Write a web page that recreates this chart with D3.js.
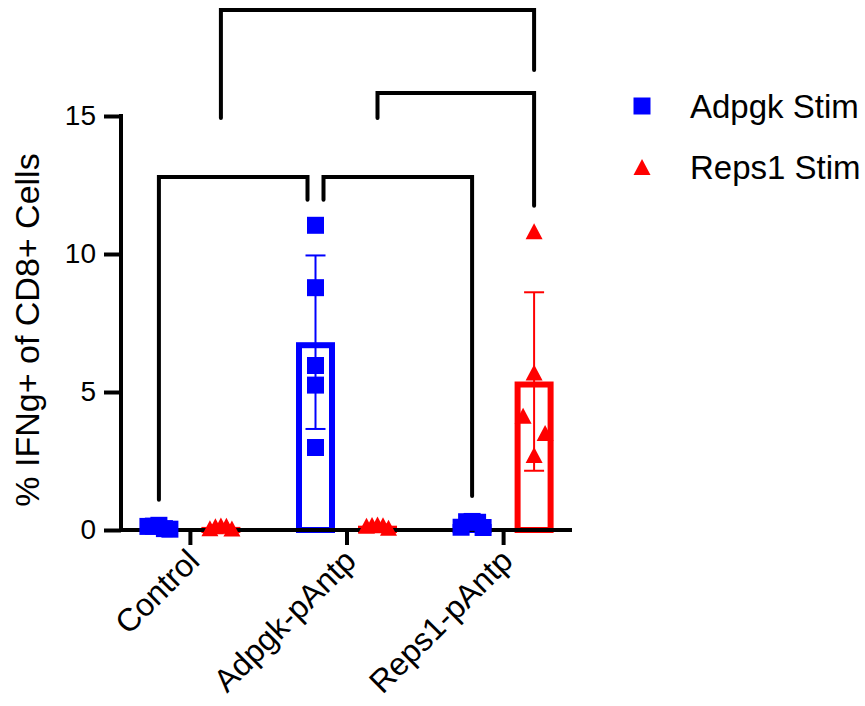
<!DOCTYPE html>
<html>
<head>
<meta charset="utf-8">
<script src="https://cdn.jsdelivr.net/npm/d3@7"></script>
<style>
  body { margin: 0; background: #fff; }
  svg { display: block; }
  text { font-family: "Liberation Sans", Arial, Helvetica, sans-serif; fill: #000; }
</style>
</head>
<body>
<svg id="chart" width="865" height="706"></svg>
<script>
// ---- data -------------------------------------------------------------
const categories = ['Control', 'Adpgk-pAntp', 'Reps1-pAntp'];
const seriesNames = ['Adpgk Stim', 'Reps1 Stim'];

// % IFNg+ of CD8+ cells, one replicate per entry, per category
const adpgkStim = [
  [0.13, 0.14, 0.17, 0.05, 0.03],
  [11.04, 8.78, 5.96, 5.25, 2.99],
  [0.10, 0.30, 0.31, 0.28, 0.09]
];
const reps1Stim = [
  [0.06, 0.14, 0.16, 0.15, 0.05],
  [0.15, 0.18, 0.20, 0.17, 0.08],
  [10.82, 5.71, 4.14, 3.51, 2.72]
];

const yTicks = [0, 5, 10, 15];

// significance brackets: endpoints as [category, series], level in data units
const comparisons = [
  { from: ['Control', 'Adpgk Stim'],     to: ['Adpgk-pAntp', 'Adpgk Stim'], level: 12.79 },
  { from: ['Adpgk-pAntp', 'Adpgk Stim'], to: ['Reps1-pAntp', 'Adpgk Stim'], level: 12.79 },
  { from: ['Adpgk-pAntp', 'Reps1 Stim'], to: ['Reps1-pAntp', 'Reps1 Stim'], level: 15.83 },
  { from: ['Control', 'Reps1 Stim'],     to: ['Reps1-pAntp', 'Reps1 Stim'], level: 18.84 }
];

// ---- layout -----------------------------------------------------------
const svg = d3.select('#chart');
const plot = { left: 121, right: 572, top: 116, bottom: 530 };
const colors = { 'Adpgk Stim': '#0000ff', 'Reps1 Stim': '#ff0000' };
const valuesBySeries = { 'Adpgk Stim': adpgkStim, 'Reps1 Stim': reps1Stim };

const y = d3.scaleLinear().domain([0, 15]).range([plot.bottom, plot.top]);
const x0 = d3.scalePoint().domain(categories).range([plot.left, plot.right]).padding(0.44);
const x1 = d3.scalePoint().domain(seriesNames).range([-31, 31]);
const cx = (cat, s) => x0(cat) + x1(s);

const barW = 39, barStroke = 6;
const sq = 17, triW = 17, triH = 16;
const fontTick = 28, fontTitle = 34, fontLegend = 33, fontCat = 32;

const groups = [];
categories.forEach((c, i) => seriesNames.forEach(s => {
  const v = valuesBySeries[s][i];
  groups.push({ cat: c, series: s, values: v, mean: d3.mean(v), sd: d3.deviation(v) });
}));

// marker shapes centred on their bounding box
const squarePath = `M${-sq/2},${-sq/2}h${sq}v${sq}h${-sq}Z`;
const trianglePath = `M0,${-triH/2}L${triW/2},${triH/2}L${-triW/2},${triH/2}Z`;
const markerPath = s => s === 'Adpgk Stim' ? squarePath : trianglePath;

// spread overlapping replicates sideways
function spread(values) {
  const order = d3.range(values.length).sort((a, b) => values[b] - values[a]);
  const clusters = [];
  order.forEach((idx, k) => {
    if (k > 0 && Math.abs(y(values[order[k - 1]]) - y(values[idx])) < 18) {
      clusters[clusters.length - 1].push(idx);
    } else clusters.push([idx]);
  });
  const off = new Array(values.length).fill(0);
  clusters.forEach(cl => {
    cl.sort((a, b) => a - b);
    const n = cl.length;
    cl.forEach((idx, j) => { off[idx] = n === 1 ? 0 : -11 + 22 * j / (n - 1); });
  });
  return off;
}

// ---- bars -------------------------------------------------------------
const gBars = svg.append('g');
groups.forEach(g => {
  const top = y(g.mean) + barStroke / 2;
  const h = plot.bottom - top;
  if (h <= 0) return;
  gBars.append('rect')
    .attr('x', cx(g.cat, g.series) - barW / 2 + barStroke / 2)
    .attr('y', top)
    .attr('width', barW - barStroke)
    .attr('height', h)
    .attr('fill', 'none')
    .attr('stroke', colors[g.series])
    .attr('stroke-width', barStroke);
});

// ---- error bars (mean ± SD) -------------------------------------------
const gErr = svg.append('g');
groups.forEach(g => {
  const x = cx(g.cat, g.series);
  const yHi = y(g.mean + g.sd), yLo = y(Math.max(0, g.mean - g.sd));
  const c = colors[g.series];
  gErr.append('line').attr('x1', x).attr('x2', x).attr('y1', yHi).attr('y2', yLo)
    .attr('stroke', c).attr('stroke-width', 2);
  [yHi, yLo].forEach(yy => gErr.append('line')
    .attr('x1', x - 10).attr('x2', x + 10).attr('y1', yy).attr('y2', yy)
    .attr('stroke', c).attr('stroke-width', 2));
});

// ---- axes -------------------------------------------------------------
const gAxis = svg.append('g');
const yAxis = d3.axisLeft(y).tickValues(yTicks).tickSize(17).tickPadding(8).tickFormat(d3.format('d'));
const gy = gAxis.append('g').attr('transform', `translate(${plot.left},0)`).call(yAxis);
gy.select('.domain').remove();
gy.selectAll('.tick line').attr('stroke', '#000').attr('stroke-width', 4);
gy.selectAll('.tick text').attr('font-size', fontTick).attr('fill', '#000');

const xAxis = d3.axisBottom(x0).tickSize(15).tickSizeOuter(0);
const gx = gAxis.append('g').attr('transform', `translate(0,${plot.bottom})`).call(xAxis);
gx.select('.domain').remove();
gx.selectAll('.tick line').attr('stroke', '#000').attr('stroke-width', 4);
gx.selectAll('.tick text')
  .attr('font-size', fontCat).attr('fill', '#000')
  .attr('text-anchor', 'end')
  .attr('x', 0).attr('y', 0).attr('dy', '0.35em')
  .attr('transform', 'translate(3,25) rotate(-45)');

gAxis.append('line').attr('x1', plot.left).attr('x2', plot.left)
  .attr('y1', plot.top - 2).attr('y2', plot.bottom + 2)
  .attr('stroke', '#000').attr('stroke-width', 4);
gAxis.append('line').attr('x1', plot.left - 2).attr('x2', plot.right)
  .attr('y1', plot.bottom).attr('y2', plot.bottom)
  .attr('stroke', '#000').attr('stroke-width', 4);

svg.append('text')
  .attr('transform', `translate(39,${(plot.top + plot.bottom) / 2 + 7}) rotate(-90)`)
  .attr('text-anchor', 'middle')
  .attr('font-size', fontTitle)
  .text('% IFNg+ of CD8+ Cells');

// ---- replicate points -------------------------------------------------
const gPts = svg.append('g');
groups.forEach(g => {
  const off = spread(g.values);
  g.values.forEach((v, i) => {
    gPts.append('path')
      .attr('d', markerPath(g.series))
      .attr('transform', `translate(${cx(g.cat, g.series) + off[i]},${y(v)})`)
      .attr('fill', colors[g.series]);
  });
});

// ---- significance brackets -------------------------------------------
const keyOf = e => e.join('|');
const groupTopPx = (cat, s) => {
  const g = groups.find(d => d.cat === cat && d.series === s);
  return y(d3.max(g.values)) - sq / 2 - 17;
};
const brackets = comparisons.map(c => {
  const ends = [c.from, c.to].map((e, k) => {
    const shared = comparisons.some(o => o !== c && o.level === c.level &&
      (keyOf(o.from) === keyOf(e) || keyOf(o.to) === keyOf(e)));
    const inward = k === 0 ? 1 : -1;
    return { e, x: cx(e[0], e[1]) + (shared ? 8 * inward : 0) };
  });
  return { c, ends };
});
brackets.forEach(b => {
  const yl = y(b.c.level);
  const legs = b.ends.map(end => {
    const dataLimit = groupTopPx(end.e[0], end.e[1]);
    let bracketLimit = Infinity;
    brackets.forEach(o => {
      if (o === b || o.c.level >= b.c.level) return;
      const lo = Math.min(o.ends[0].x, o.ends[1].x) - 1, hi = Math.max(o.ends[0].x, o.ends[1].x) + 1;
      if (end.x >= lo && end.x <= hi) bracketLimit = Math.min(bracketLimit, y(o.c.level) - 23);
    });
    return bracketLimit < dataLimit ? Math.min(bracketLimit, y(15) + 2) : dataLimit;
  });
  svg.append('path')
    .attr('d', `M${b.ends[0].x},${legs[0]}V${yl}H${b.ends[1].x}V${legs[1]}`)
    .attr('fill', 'none').attr('stroke', '#000').attr('stroke-width', 4)
    .attr('stroke-linecap', 'round').attr('stroke-linejoin', 'miter');
});

// ---- legend -----------------------------------------------------------
const legend = svg.append('g').attr('transform', 'translate(642,106)');
seriesNames.forEach((s, i) => {
  const row = legend.append('g').attr('transform', `translate(0,${i * 61})`);
  row.append('path').attr('d', markerPath(s)).attr('fill', colors[s]);
  row.append('text').attr('x', 48).attr('dy', '0.35em').attr('font-size', fontLegend).text(s);
});
</script>
</body>
</html>
